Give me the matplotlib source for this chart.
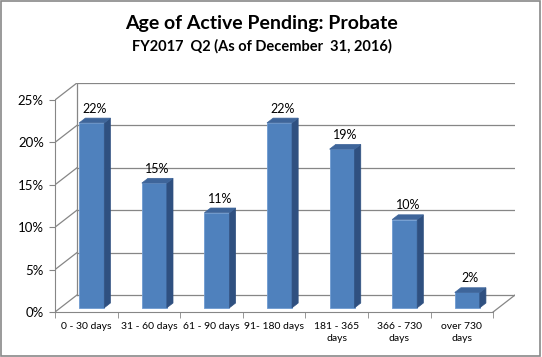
import matplotlib.pyplot as plt
from matplotlib.patches import Polygon, Rectangle
import numpy as np

plt.rcParams['font.family'] = ['Lato', 'DejaVu Sans']

categories = ['0 - 30 days', '31 - 60 days', '61 - 90 days', '91- 180 days',
              '181 - 365\ndays', '366 - 730\ndays', 'over 730\ndays']
values = [21.8, 14.7, 11.2, 21.8, 18.7, 10.4, 1.8]
labels = ['22%', '15%', '11%', '22%', '19%', '10%', '2%']
yticks = [0, 5, 10, 15, 20, 25]

# fake 3d depth (data units) of the back wall relative to the front plane
DX, DY = 0.35, 2.0
bar_t = 0.25      # depth position of bar front face
bar_d = 0.28      # bar depth as fraction of DX/DY
bw = 0.4

grid_c = '#868686'
front_c = '#4F81BD'
side_c = '#2F5080'
top_c = '#3E659A'

fig = plt.figure(figsize=(5.42, 3.57), dpi=100)
ax = fig.add_axes([55/542, 1-312/357, 460/542, 229/357])
n = len(categories)
ax.set_xlim(0, n + DX)
ax.set_ylim(0, 25 + DY)

# back wall gridlines and diagonals
for t in yticks:
    ax.plot([DX, n + DX], [t + DY, t + DY], color=grid_c, lw=0.9, zorder=1)
    ax.plot([0, DX], [t, t + DY], color=grid_c, lw=0.9, zorder=1)
ax.plot([DX, DX], [DY, 25 + DY], color=grid_c, lw=0.9, zorder=1)
# floor
ax.plot([n, n + DX], [0, DY], color=grid_c, lw=0.9, zorder=1)

# bars
for i, v in enumerate(values):
    x0 = i + 0.5 + bar_t * DX - bw / 2
    y0 = bar_t * DY
    dx, dy = bar_d * DX, bar_d * DY
    ax.bar(x0, v, width=bw, bottom=y0, align='edge', color=front_c,
           edgecolor='#6F9BD1', lw=0.6, zorder=3)
    ax.add_patch(Polygon([(x0 + bw, y0), (x0 + bw + dx, y0 + dy),
                          (x0 + bw + dx, y0 + v + dy), (x0 + bw, y0 + v)],
                         closed=True, fc=side_c, ec=side_c, lw=0.5, zorder=3))
    ax.add_patch(Polygon([(x0, y0 + v), (x0 + bw, y0 + v),
                          (x0 + bw + dx, y0 + v + dy), (x0 + dx, y0 + v + dy)],
                         closed=True, fc=top_c, ec=top_c, lw=0.5, zorder=3))
    ax.text(x0 + bw / 2 + dx / 2, y0 + v + dy + 0.4, labels[i],
            ha='center', va='bottom', fontsize=9, zorder=4)

for s in ['top', 'right']:
    ax.spines[s].set_visible(False)
ax.spines['left'].set_bounds(0, 25)
ax.spines['bottom'].set_bounds(0, n)
ax.spines['left'].set_color(grid_c)
ax.spines['bottom'].set_color(grid_c)

ax.set_yticks(yticks)
ax.set_yticklabels([f'{t}%' for t in yticks], fontsize=9.5)
ax.tick_params(axis='y', length=4, color=grid_c, pad=4)
ax.set_xticks(np.arange(n) + 0.5)
ax.set_xticklabels(categories, fontsize=7.5, linespacing=1.4)
ax.tick_params(axis='x', length=0, pad=7)
ax.set_xticks(np.arange(n + 1), minor=True)
ax.tick_params(axis='x', which='minor', length=4, color=grid_c)

fig.text(261/542, 1-24/357, 'Age of Active Pending: Probate', ha='center',
         va='center', fontsize=14, fontweight='bold')
fig.text(262/542, 1-46/357, 'FY2017  Q2 (As of December  31, 2016)',
         ha='center', va='center', fontsize=10.5, fontweight='bold')

fig.patches.append(Rectangle((0.002, 0.003), 0.995, 0.994, transform=fig.transFigure,
                             fill=False, ec='#898989', lw=1.2))

fig.savefig('out.png', dpi=100)
